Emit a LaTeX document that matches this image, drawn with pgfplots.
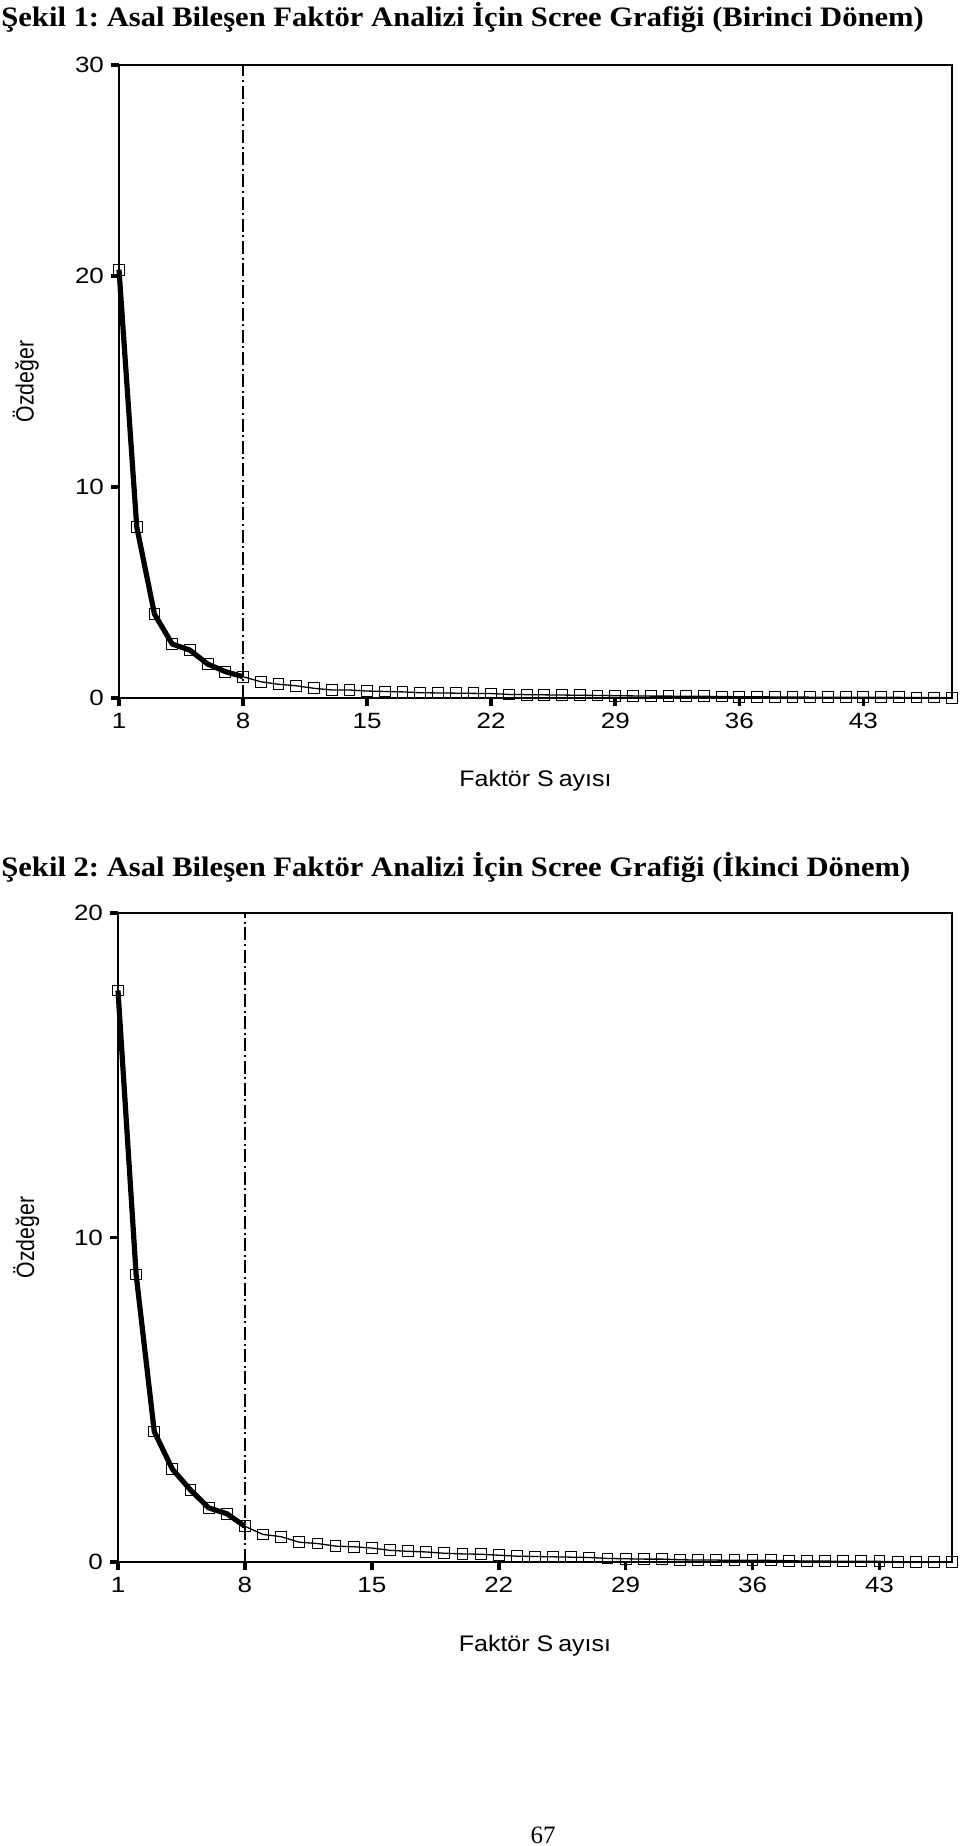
\documentclass[border=0pt]{standalone}
\usepackage{fontspec}
\setmainfont{Liberation Serif}
\setsansfont{Liberation Sans}
\usepackage{graphicx}
\usepackage{pgfplots}
\pgfplotsset{compat=1.18}
\frenchspacing

\newcommand\pxu{0.5pt}

\pgfplotstableread{
x y
1 20.3
2 8.12
3 3.98
4 2.56
5 2.27
6 1.61
7 1.25
8 1.01
}\thickA
\pgfplotstableread{
x y
8 1.01
9 0.77
10 0.65
11 0.58
12 0.46
13 0.38
14 0.38
15 0.33
16 0.31
17 0.29
18 0.25
19 0.24
20 0.23
21 0.22
22 0.21
23 0.17
24 0.16
25 0.15
26 0.14
27 0.13
28 0.12
29 0.11
30 0.10
31 0.09
32 0.09
33 0.08
34 0.08
35 0.07
36 0.06
37 0.06
38 0.05
39 0.05
40 0.04
41 0.04
42 0.04
43 0.03
44 0.03
45 0.03
46 0.02
47 0.02
48 0.01
}\thinA
\pgfplotstableread{
x y
1 17.61
2 8.86
3 4.02
4 2.86
5 2.22
6 1.67
7 1.49
8 1.10
}\thickB
\pgfplotstableread{
x y
8 1.10
9 0.85
10 0.78
11 0.61
12 0.57
13 0.49
14 0.47
15 0.43
16 0.36
17 0.33
18 0.31
19 0.27
20 0.25
21 0.24
22 0.21
23 0.18
24 0.17
25 0.16
26 0.15
27 0.14
28 0.11
29 0.10
30 0.09
31 0.09
32 0.07
33 0.06
34 0.06
35 0.05
36 0.05
37 0.05
38 0.04
39 0.03
40 0.03
41 0.02
42 0.02
43 0.02
44 0.01
45 0.01
46 0.01
47 0.01
}\thinB

\pgfplotsset{
  scree/.style={
    scale only axis, anchor=south west, clip=false,
    xmin=1, ymin=0,
    xtick={1,8,15,22,29,36,43},
    xtick pos=bottom, ytick pos=left,
    tick align=outside,
    major tick length=4pt,
    tick style={black, line width=1.8pt},
    axis line style={line width=0.7pt},
    /pgf/number format/assume math mode=true,
    ticklabel style={font=\sffamily\fontsize{13}{15}\selectfont},
    xticklabel={\scalebox{1}[0.85]{\pgfmathprintnumber{\tick}}},
    yticklabel={\scalebox{1}[0.85]{\pgfmathprintnumber{\tick}}},
    label style={font=\sffamily\fontsize{12.5}{14}\selectfont},
    xlabel={\scalebox{1}[0.9]{Faktör S\hspace{0.2em}ayısı}},
    ylabel={\scalebox{0.85}[1]{Özdeğer}},
  },
  thickline/.style={black, line width=2.6pt, line join=round,
    mark=square, mark size=2.7pt, mark options={line width=0.5pt}},
  thinline/.style={black, line width=0.65pt,
    mark=square, mark size=2.7pt, mark options={line width=0.5pt}},
  cutline/.style={black, line width=0.6pt,
    dash pattern=on 6.5pt off 1.8pt on 1pt off 1.8pt},
}

\begin{document}
\begin{tikzpicture}
\path[use as bounding box] (0,0) rectangle ({960*\pxu},{-1846*\pxu});

\node[anchor=base west, inner sep=0pt] at ({1*\pxu},{-27*\pxu})
  {\scalebox{1}[0.92]{\fontsize{15.3}{18}\selectfont\bfseries Şekil 1: Asal Bileşen Faktör Analizi İçin Scree Grafiği (Birinci Dönem)}};

\begin{axis}[scree,
  at={({119*\pxu},{-698*\pxu})},
  width={833*\pxu}, height={633*\pxu},
  xmax=48, ymax=30, ytick={0,10,20,30},
  xlabel style={at={(axis description cs:0.5,-0.131)}, anchor=center},
  ylabel style={at={(axis description cs:-0.112,0.5)}, anchor=center},
]
\addplot[thickline] table[x=x, y=y] {\thickA};
\addplot[thinline] table[x=x, y=y] {\thinA};
\addplot[cutline] coordinates {(8,0) (8,30)};
\end{axis}

\node[anchor=base west, inner sep=0pt] at ({1*\pxu},{-876*\pxu})
  {\scalebox{1}[0.92]{\fontsize{15.3}{18}\selectfont\bfseries Şekil 2: Asal Bileşen Faktör Analizi İçin Scree Grafiği (İkinci Dönem)}};

\begin{axis}[scree,
  at={({118*\pxu},{-1562*\pxu})},
  width={834*\pxu}, height={649*\pxu},
  xmax=47, ymax=20, ytick={0,10,20},
  xlabel style={at={(axis description cs:0.5,-0.129)}, anchor=center},
  ylabel style={at={(axis description cs:-0.110,0.5)}, anchor=center},
]
\addplot[thickline] table[x=x, y=y] {\thickB};
\addplot[thinline] table[x=x, y=y] {\thinB};
\addplot[cutline] coordinates {(8,0) (8,20)};
\end{axis}

\node[anchor=base, inner sep=0pt] at ({543*\pxu},{-1843*\pxu})
  {\fontsize{12.5}{14}\selectfont 67};
\end{tikzpicture}
\end{document}
